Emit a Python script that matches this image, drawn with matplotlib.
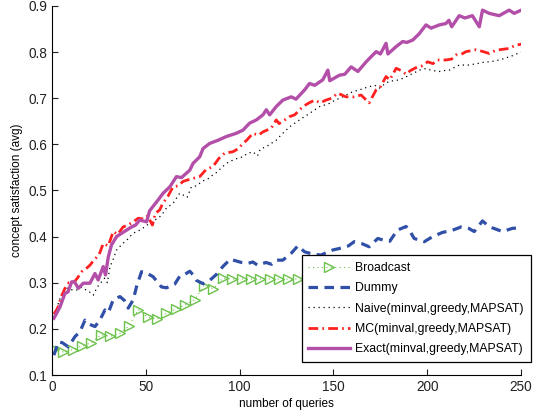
import matplotlib
matplotlib.use("Agg")
import matplotlib.pyplot as plt

plt.rcParams["font.family"] = ["Liberation Sans", "DejaVu Sans"]

# values (query number, avg concept satisfaction)
broadcast_q = [1, 6, 11, 16, 21, 26, 31, 36, 41, 46, 51, 56, 61, 66, 71, 76, 81, 86, 91, 96,
               101, 106, 111, 116, 121, 126, 131, 136, 141, 146, 151, 156, 161, 166, 171, 176,
               181, 186, 191, 196, 201, 206, 211, 216, 221, 226, 231, 236, 241, 246]
broadcast_v = [0.157, 0.150, 0.155, 0.163, 0.170, 0.187, 0.184, 0.190, 0.206, 0.242, 0.225, 0.221,
               0.234, 0.243, 0.252, 0.263, 0.294, 0.287, 0.310, 0.308, 0.308, 0.308, 0.308, 0.308,
               0.308, 0.308, 0.308, 0.309, 0.310, 0.310, 0.311, 0.311, 0.312, 0.312, 0.312, 0.313,
               0.313, 0.313, 0.314, 0.314, 0.314, 0.315, 0.315, 0.315, 0.315, 0.316, 0.316, 0.316,
               0.316, 0.316]

dummy_q = [1, 3.4, 5.5, 8.7, 12.2, 14.9, 17.6, 20, 22.9, 25.5, 28.2, 30, 32.6, 36.2, 38.5, 40.6,
           43.3, 45, 47.7, 50, 53.9, 58.3, 61, 65.4, 68.2, 70.7, 73.4, 75, 77, 80.5, 84, 87.6, 91,
           95, 100.9, 104.4, 107, 109.6, 114, 117, 119.5, 123, 127.5, 131, 134.6, 139, 143.4, 146,
           149.6, 155, 158, 161, 165, 169, 173.6, 177, 180, 184, 188.7, 191, 193, 198.4, 202.8,
           208, 213.5, 218, 222, 225, 229.4, 232, 234.7, 240, 245.4, 250]
dummy_v = [0.143, 0.172, 0.170, 0.161, 0.183, 0.194, 0.219, 0.210, 0.205, 0.219, 0.241, 0.235,
           0.263, 0.270, 0.262, 0.245, 0.263, 0.291, 0.324, 0.322, 0.313, 0.291, 0.289, 0.297,
           0.315, 0.318, 0.325, 0.318, 0.305, 0.298, 0.305, 0.318, 0.335, 0.351, 0.344, 0.342,
           0.345, 0.338, 0.344, 0.340, 0.349, 0.349, 0.364, 0.380, 0.367, 0.362, 0.360, 0.365,
           0.371, 0.376, 0.380, 0.389, 0.385, 0.378, 0.396, 0.392, 0.390, 0.414, 0.422, 0.410,
           0.396, 0.389, 0.400, 0.409, 0.414, 0.421, 0.418, 0.411, 0.434, 0.425, 0.419, 0.411,
           0.418, 0.419]

naive_q = [1, 3, 5, 7, 10, 13, 15.5, 18.4, 20, 22, 24, 26, 28, 29.5, 30.9, 32.5, 34.4, 36.5, 38.8,
           40.5, 42.4, 44.5, 46.8, 49, 52, 54.5, 57.4, 59, 61, 63, 65, 68, 70, 72, 74.3, 77, 80, 83,
           85.8, 88, 91, 93.5, 96.4, 99, 101.8, 104, 107, 109.5, 111, 114.2, 116, 119.5, 121.3, 124,
           126.6, 129, 131.9, 134.5, 137.2, 140, 142.6, 145, 147.9, 150.5, 153.2, 156, 158.5, 161,
           163.8, 166.5, 169, 172, 174.5, 177, 179.8, 182.5, 185, 188, 190.4, 193, 195.7, 199, 203,
           206.4, 209, 211.7, 214.5, 217, 219.5, 222.3, 225, 227.7, 230, 233, 236, 238.3, 241,
           243.6, 246, 248, 250]
naive_v = [0.222, 0.250, 0.275, 0.290, 0.285, 0.284, 0.290, 0.284, 0.280, 0.273, 0.290, 0.300,
           0.310, 0.300, 0.335, 0.350, 0.371, 0.380, 0.389, 0.395, 0.404, 0.410, 0.414, 0.420,
           0.429, 0.435, 0.443, 0.450, 0.462, 0.468, 0.475, 0.494, 0.490, 0.485, 0.508, 0.510,
           0.520, 0.525, 0.534, 0.540, 0.552, 0.560, 0.566, 0.570, 0.573, 0.580, 0.584, 0.575,
           0.590, 0.595, 0.600, 0.609, 0.617, 0.628, 0.638, 0.645, 0.653, 0.660, 0.667, 0.675,
           0.682, 0.685, 0.689, 0.695, 0.700, 0.705, 0.711, 0.715, 0.718, 0.722, 0.725, 0.728,
           0.722, 0.730, 0.737, 0.738, 0.740, 0.745, 0.750, 0.755, 0.761, 0.764, 0.760, 0.758,
           0.760, 0.761, 0.767, 0.772, 0.772, 0.772, 0.774, 0.776, 0.778, 0.779, 0.781, 0.783,
           0.786, 0.790, 0.793, 0.797, 0.800]

mc_q = [1, 3, 5, 6.9, 9, 11.3, 13.5, 15.8, 18, 20.2, 22.5, 25, 27.3, 30, 32.6, 35, 37.9, 40.5,
        43.2, 46, 49, 51, 53.5, 55, 57.4, 59, 61.7, 64.5, 67, 70, 74, 78.7, 82, 85.8, 89, 92, 96.4,
        99, 101.8, 104, 107, 110, 112.4, 116.8, 119.5, 121, 124, 126.5, 129.3, 133.7, 137, 140,
        143, 146, 149, 152.3, 156.7, 161, 164.7, 169, 172.7, 175, 178, 180, 183.4, 186, 188.7, 191,
        194.8, 197, 200.2, 203, 205.5, 210, 213, 215.3, 218, 220.6, 225.9, 229, 233, 236, 238.3,
        243.6, 247, 250]
mc_v = [0.232, 0.245, 0.270, 0.288, 0.300, 0.299, 0.310, 0.324, 0.330, 0.338, 0.350, 0.360,
        0.385, 0.380, 0.411, 0.405, 0.421, 0.425, 0.432, 0.440, 0.438, 0.445, 0.425, 0.450, 0.458,
        0.472, 0.487, 0.508, 0.510, 0.520, 0.525, 0.530, 0.545, 0.552, 0.570, 0.581, 0.584, 0.590,
        0.602, 0.610, 0.624, 0.620, 0.627, 0.635, 0.653, 0.645, 0.653, 0.660, 0.664, 0.682, 0.690,
        0.696, 0.690, 0.696, 0.700, 0.711, 0.703, 0.703, 0.707, 0.690, 0.718, 0.725, 0.747, 0.740,
        0.765, 0.760, 0.752, 0.760, 0.768, 0.770, 0.779, 0.775, 0.783, 0.783, 0.785, 0.794, 0.795,
        0.801, 0.805, 0.802, 0.797, 0.803, 0.805, 0.808, 0.815, 0.817]

exact_q = [1, 4.3, 6.9, 8.5, 10.5, 12, 14, 16.7, 20.2, 22.9, 24.6, 27.3, 28.5, 30, 31.7, 34.4, 37,
           39.7, 42.4, 44.5, 46.8, 50.4, 52, 55.7, 59.2, 62.8, 66.3, 69, 73.4, 75.2, 78.7, 80.5,
           84, 88.5, 92.9, 98.2, 101.8, 105.3, 108.9, 112.4, 114.2, 116, 119.5, 123, 127.5, 130,
           134.6, 137.2, 140, 144.3, 147, 148, 153.2, 156, 159.4, 163, 167.4, 172.7, 175, 178, 179,
           183.4, 186.9, 189, 192.2, 195.7, 199.3, 202, 206.4, 209.9, 211.5, 213, 217, 220, 224,
           227.7, 229.4, 233, 238.3, 243.6, 246.3, 250]
exact_v = [0.223, 0.248, 0.277, 0.280, 0.302, 0.302, 0.288, 0.299, 0.299, 0.320, 0.306, 0.335,
           0.317, 0.356, 0.382, 0.400, 0.407, 0.414, 0.421, 0.425, 0.436, 0.432, 0.456, 0.475,
           0.494, 0.508, 0.530, 0.528, 0.544, 0.559, 0.573, 0.591, 0.602, 0.609, 0.617, 0.624,
           0.631, 0.646, 0.653, 0.664, 0.675, 0.664, 0.682, 0.696, 0.703, 0.698, 0.718, 0.732,
           0.728, 0.740, 0.761, 0.738, 0.750, 0.752, 0.768, 0.758, 0.779, 0.801, 0.796, 0.819,
           0.796, 0.812, 0.823, 0.821, 0.826, 0.840, 0.859, 0.852, 0.859, 0.862, 0.869, 0.855,
           0.879, 0.874, 0.879, 0.855, 0.891, 0.884, 0.879, 0.891, 0.884, 0.891]

labels = ["Broadcast", "Dummy", "Naive(minval,greedy,MAPSAT)",
          "MC(minval,greedy,MAPSAT)", "Exact(minval,greedy,MAPSAT)"]

fig = plt.figure(figsize=(5.44, 4.19), dpi=100)
ax = fig.add_axes([0.0956, 0.105, 0.8624, 0.8807])

ax.plot(broadcast_q, broadcast_v, color="#6cc24a", lw=0.8, ls=(0, (1, 3)),
        marker=">", markersize=7, markerfacecolor="none", markeredgecolor="#6cc24a",
        markeredgewidth=1.0, label=labels[0])
ax.plot(dummy_q, dummy_v, color="#3050a8", lw=2.3, ls=(0, (3, 2)), label=labels[1])
ax.plot(naive_q, naive_v, color="black", lw=0.9, ls=(0, (1, 3)), label=labels[2])
ax.plot(mc_q, mc_v, color="#ff2020", lw=2.0, ls=(0, (3.5, 1.5, 0.6, 1.5)), label=labels[3])
ax.plot(exact_q, exact_v, color="#b34fa8", lw=2.4, label=labels[4])

ax.set_xlim(0, 250)
ax.set_ylim(0.1, 0.9)
ax.set_xticks([0, 50, 100, 150, 200, 250])
ax.set_yticks([0.1, 0.2, 0.3, 0.4, 0.5, 0.6, 0.7, 0.8, 0.9])
ax.spines["top"].set_visible(False)
ax.spines["right"].set_visible(False)
ax.tick_params(direction="in", length=4, labelsize=9.8, colors="#222222")
ax.set_xlabel("number of queries", fontsize=8.5, labelpad=3)
ax.set_ylabel("concept satisfaction (avg)", fontsize=8.5, labelpad=4)

leg = ax.legend(loc="lower left", bbox_to_anchor=(0.532, 0.035), fontsize=8.8,
                fancybox=False, framealpha=1, edgecolor="black", handlelength=3.4,
                borderpad=0.55, labelspacing=0.68, handletextpad=0.45, borderaxespad=0)
leg.get_frame().set_linewidth(0.9)

fig.savefig("out.png", dpi=100)
